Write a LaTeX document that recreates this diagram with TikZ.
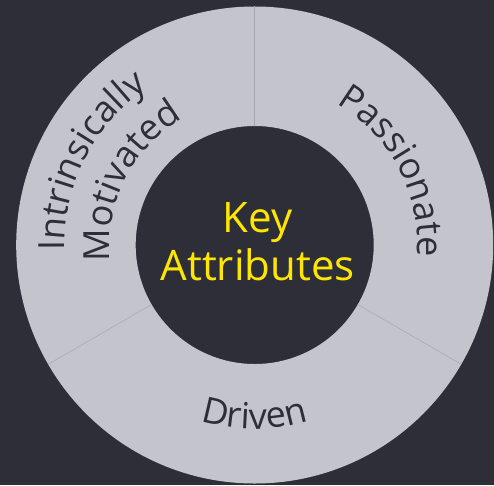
\documentclass[tikz,border=0pt]{standalone}
\usepackage{fontspec}
\setsansfont{Open Sans}
\usepackage{tikz}
\usetikzlibrary{decorations.text}

\definecolor{eydark}{HTML}{2E2E38}
\definecolor{eyring}{HTML}{C4C4CD}
\definecolor{eyline}{HTML}{A6A6B0}
\definecolor{eyyellow}{HTML}{FFE600}

\begin{document}
\begin{tikzpicture}[
		x=1pt,
		y=1pt,
		/utils/exec={\sffamily},
		font=\fontsize{42pt}{48pt}\selectfont,
		inner radius/.store in=\innerr,
		outer radius/.store in=\outerr,
		inner radius=119,
		outer radius=238.5
	]
		\tikzset{ringtext/.style={
			decorate,
			decoration={
				text along path,
				text align=center,
				text={|\sffamily\fontsize{36pt}{36pt}\selectfont\color{eydark}|#1}
			}
		}}

		\fill[eydark] (-254.7,-240) rectangle (239.3,245);
		\fill[eyring, even odd rule] (0,0) circle (\outerr) (0,0) circle (\innerr);
		\foreach \a in {90,210,330}
			\draw[eyline, line width=0.5] (\a:\innerr) -- (\a:\outerr);

		\path[ringtext=Driven] (232:184) arc (232:308:184);
		\path[ringtext=Passionate] (88:163) arc (88:-32:163);
		\path[ringtext=Intrinsically] (213:190) arc (213:93:190);
		\path[ringtext=Motivated] (213:145) arc (213:93:145);

		\node[text=eyyellow, align=center] (keyattr) at (3,3) {Key\\Attributes};
	\end{tikzpicture}
\end{document}
